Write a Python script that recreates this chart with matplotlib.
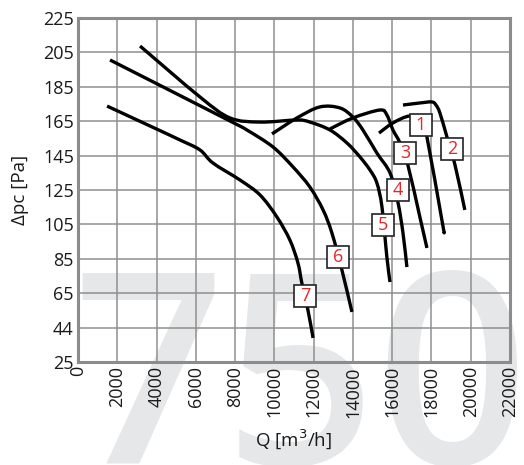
import matplotlib
matplotlib.use("Agg")
import matplotlib.pyplot as plt
from matplotlib.path import Path
from matplotlib.patches import PathPatch

plt.rcParams['font.family'] = ['Open Sans', 'DejaVu Sans']

# ---- data (Q in m3/h, dp in Pa) ----
q1 = [15330, 16040, 16900, 17510, 17770, 18530, 18640]
p1 = [158.1, 164.0, 168.0, 164.5, 155.8, 107.6, 100.6]

q2 = [16550, 17410, 18020, 18230, 18430, 18790, 19200, 19700]
p2 = [174.4, 175.6, 176.2, 174.4, 169.8, 155.8, 139.5, 113.4]

q3 = [12830, 14000, 15380, 15730, 16040, 16400, 16800, 17410, 17770]
p3 = [160.5, 166.9, 171.5, 168.6, 159.9, 152.3, 139.5, 109.3, 91.3]

q4 = [9880, 11150, 12320, 13340, 14000, 14510, 15220, 15890, 16290, 16550, 16750]
p4 = [157.6, 166.9, 173.3, 172.7, 167.4, 159.9, 146.5, 134.9, 118.0, 100.0, 80.2]

q5 = [3160, 6210, 7740, 9270, 11150, 11810, 12830, 13700, 14360, 14870, 15220, 15480, 15730, 15890]
p5 = [208.7, 179.1, 166.9, 164.5, 165.7, 164.5, 159.9, 152.3, 144.2, 136.6, 129.1, 115.1, 86.0, 71.5]

q6 = [1630, 7640, 8600, 9930, 10950, 11810, 12480, 12930, 13440, 13950]
p6 = [200.6, 165.7, 159.9, 150.0, 138.4, 126.7, 113.4, 100.0, 78.5, 54.1]

q7 = [1480, 3670, 5190, 6210, 6870, 8250, 9270, 10130, 10790, 11200, 11400, 11710, 11970]
p7 = [173.8, 162.2, 154.1, 148.3, 140.7, 130.8, 122.1, 109.3, 95.9, 82.6, 70.9, 55.2, 39.0]

curve_names = ['1', '2', '3', '4', '5', '6', '7']
label_q = [17460, 19040, 16660, 16300, 15530, 13240, 11560]
label_p = [162.8, 148.8, 146.5, 125.0, 104.7, 86.0, 63.4]

x_ticks = [0, 2000, 4000, 6000, 8000, 10000, 12000, 14000, 16000, 18000, 20000, 22000]
y_ticks = [25, 45, 65, 85, 105, 125, 145, 165, 185, 205, 225]
y_tick_labels = ['25', '44', '65', '85', '105', '125', '145', '165', '185', '205', '225']


def smooth_path(xs, ys):
    """Catmull-Rom spline through the given points, as a Bezier path."""
    pts = list(zip(xs, ys))
    n = len(pts)
    verts = [pts[0]]
    codes = [Path.MOVETO]
    for i in range(n - 1):
        p0 = pts[i - 1] if i > 0 else pts[i]
        p1 = pts[i]
        p2 = pts[i + 1]
        p3 = pts[i + 2] if i + 2 < n else pts[i + 1]
        c1 = (p1[0] + (p2[0] - p0[0]) / 6.0, p1[1] + (p2[1] - p0[1]) / 6.0)
        c2 = (p2[0] - (p3[0] - p1[0]) / 6.0, p2[1] - (p3[1] - p1[1]) / 6.0)
        verts += [c1, c2, p2]
        codes += [Path.CURVE4] * 3
    return Path(verts, codes)


fig = plt.figure(figsize=(5.24, 4.65), dpi=100)

# watermark
fig.text(72 / 524, 1 - 464 / 465, '750', fontsize=192, color='#e6e7e9',
         fontweight='semibold', ha='left', va='baseline', zorder=-1)

ax = fig.add_axes([78 / 524, 103 / 465, 432 / 524, 344 / 465])
ax.set_facecolor('none')

curves = [(q1, p1), (q2, p2), (q3, p3), (q4, p4), (q5, p5), (q6, p6), (q7, p7)]
for q, p in curves:
    ax.add_patch(PathPatch(smooth_path(q, p), fill=False, ec='black', lw=2.4,
                           capstyle='butt', joinstyle='round', zorder=3))

ax.plot(label_q, label_p, ls='none', marker='s', ms=15.5, mfc='white',
        mec='#222222', mew=1.2, zorder=4)
for name, lq, lp in zip(curve_names, label_q, label_p):
    ax.text(lq, lp, name, color='#e3262a', fontsize=13, ha='center', va='center',
            zorder=5)

ax.set_xlim(0, 22000)
ax.set_ylim(25, 225)
ax.set_xticks(x_ticks)
ax.set_xticklabels([str(v) for v in x_ticks], rotation=90, fontsize=13)
ax.set_yticks(y_ticks)
ax.set_yticklabels(y_tick_labels, fontsize=13)
ax.tick_params(length=0, pad=3, colors='#1a1a1a')
ax.grid(True, color='#8f8f8f', lw=1.1, zorder=1)
ax.set_axisbelow(True)
for s in ax.spines.values():
    s.set_color('#8c8c8f')
    s.set_linewidth(2.2)

ax.set_xlabel('Q [m$^3$/h]', fontsize=13.5, color='#1a1a1a', labelpad=7)
ax.set_ylabel('Δpc [Pa]', fontsize=13.5, color='#1a1a1a', labelpad=10)

fig.savefig('out.png', dpi=100)
